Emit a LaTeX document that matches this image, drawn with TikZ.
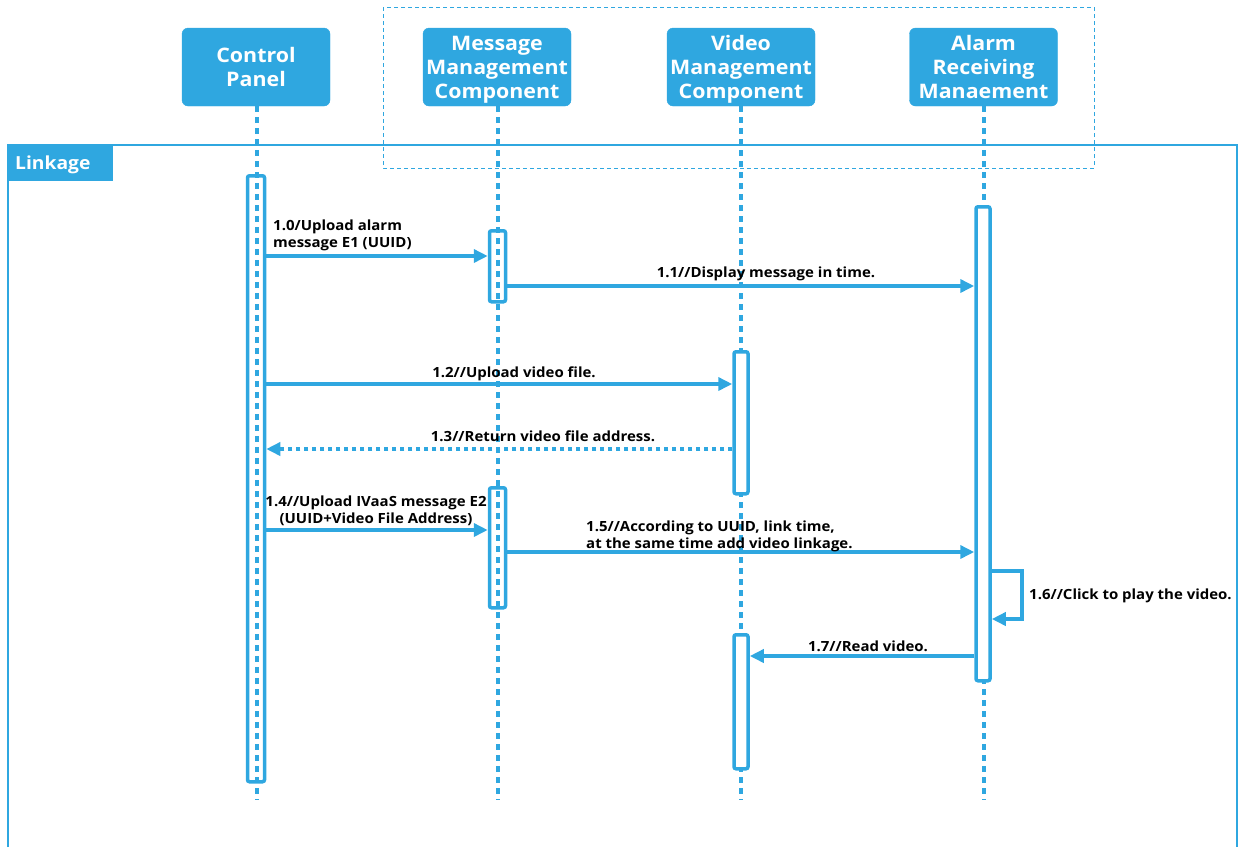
\documentclass[tikz,border=0pt]{standalone}
\usepackage{fontspec}
\setmainfont{Open Sans}[FakeStretch=1.07]
\usetikzlibrary{arrows.meta}
\definecolor{sblue}{RGB}{47,167,224}
\tikzset{
  x=1pt,y=-1pt,
  header/.style={fill=sblue,draw=sblue,rounded corners=6pt,minimum width=148pt,minimum height=78pt,
    text=white,font=\fontsize{20}{24}\selectfont\bfseries,align=center,inner sep=0pt,text depth=0pt},
  lifeline/.style={draw=sblue,line width=4pt,dash pattern=on 6pt off 5pt},
  actbox/.style={draw=sblue,line width=3.5pt,rounded corners=2pt,inner sep=0pt,anchor=north},
  actfill/.style={actbox,fill=white},
  msg/.style={draw=sblue,line width=3.5pt,-{Triangle[length=14pt,width=13pt]}},
  retmsg/.style={msg,dash pattern=on 4pt off 4pt},
  lbl/.style={font=\fontsize{14}{17}\selectfont\bfseries,text=black,inner sep=0pt,text depth=0pt},
}
\begin{document}
\begin{tikzpicture}
\useasboundingbox (0,0) rectangle (1239,847);
% grouping dashed frame
\draw[sblue,line width=1pt,dash pattern=on 4pt off 3pt] (383,7) rectangle (1094,168);
% Linkage frame
\draw[sblue,line width=2pt] (8,847) -- (8,145) -- (1237,145) -- (1237,847);
\node[fill=sblue,minimum width=105pt,minimum height=36pt,anchor=north west,inner sep=0pt] (tag) at (8,145) {};
\node[text=white,font=\fontsize{18}{20}\selectfont\bfseries,anchor=base west,inner sep=0pt] (tagtxt) at (15,169) {Linkage};
% headers
\node[header] (cp) at (256,67) {Control\\Panel};
\node[header] (mm) at (497,67) {Message\\Management\\Component};
\node[header] (vm) at (741,67) {Video\\Management\\Component};
\node[header] (ar) at (983.5,67) {Alarm\\Receiving\\Manaement};
% lifeline ends
\coordinate (cpend) at (257,800);
\coordinate (mmend) at (498,800);
\coordinate (vmend) at (741,800);
\coordinate (arend) at (984,800);
\draw[lifeline] (cp.south -| cpend) -- (cpend);
\draw[lifeline] (mm.south -| mmend) -- (mmend);
\draw[lifeline] (vm.south -| vmend) -- (vmend);
\draw[lifeline] (ar.south -| arend) -- (arend);
% activation boxes
\node[actbox,minimum width=17pt,minimum height=606pt] (cpa) at (256,174) {};
\node[actbox,minimum width=16pt,minimum height=71pt] (mma1) at (497.5,229) {};
\node[actbox,minimum width=16pt,minimum height=120pt] (mma2) at (497.5,486) {};
\node[actfill,minimum width=14pt,minimum height=142pt] (vma1) at (741,350) {};
\node[actfill,minimum width=14pt,minimum height=134pt] (vma2) at (741,633) {};
\node[actfill,minimum width=14pt,minimum height=474pt] (ara) at (983,205) {};
% message levels
\coordinate (y10) at (0,256);
\coordinate (y11) at (0,286);
\coordinate (y12) at (0,384);
\coordinate (y13) at (0,449);
\coordinate (y14) at (0,530);
\coordinate (y15) at (0,552);
\coordinate (y16a) at (0,571);
\coordinate (y16b) at (0,619);
\coordinate (y17) at (0,656);
\coordinate (loopx) at (1022,0);
% messages
\draw[msg] (cpa.east |- y10) -- (mma1.west |- y10);
\node[lbl,anchor=south west,align=left] (l10) at (273,248) {1.0/Upload alarm\\message E1 (UUID)};
\draw[msg] (mma1.east |- y11) -- (ara.west |- y11);
\node[lbl,anchor=base] (l11) at (766,277) {1.1//Display message in time.};
\draw[msg] (cpa.east |- y12) -- (vma1.west |- y12);
\node[lbl,anchor=base] (l12) at (514,377) {1.2//Upload video file.};
\draw[retmsg] (vma1.west |- y13) -- (cpa.east |- y13);
\node[lbl,anchor=base] (l13) at (543,441) {1.3//Return video file address.};
\draw[msg] (cpa.east |- y14) -- (mma2.west |- y14);
\node[lbl,anchor=south,align=center] (l14) at (376,524) {1.4//Upload IVaaS message E2\\(UUID+Video File Address)};
\draw[msg] (mma2.east |- y15) -- (ara.west |- y15);
\node[lbl,anchor=south west,align=left] (l15) at (586,549) {1.5//According to UUID, link time,\\at the same time add video linkage.};
\draw[msg] (ara.east |- y16a) -- (loopx |- y16a) -- (loopx |- y16b) -- (ara.east |- y16b);
\node[lbl,anchor=base west] (l16) at (1029,599) {1.6//Click to play the video.};
\draw[msg] (ara.west |- y17) -- (vma2.east |- y17);
\node[lbl,anchor=base] (l17) at (868,651) {1.7//Read video.};
\end{tikzpicture}
\end{document}
